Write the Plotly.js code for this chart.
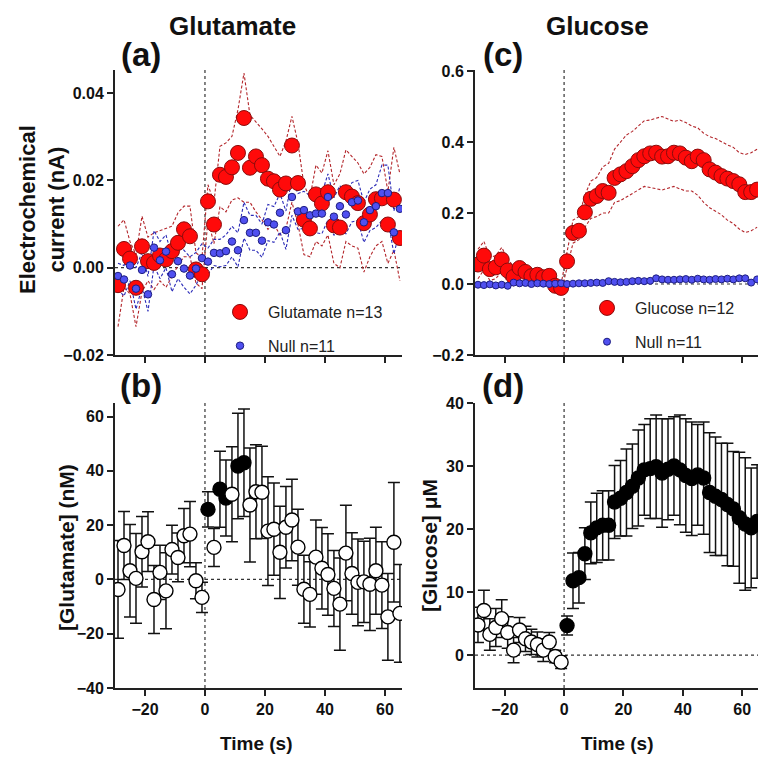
<!DOCTYPE html>
<html><head><meta charset="utf-8">
<script src="https://cdn.plot.ly/plotly-3.0.1.min.js"></script>
<style>html,body{margin:0;padding:0;background:#fff}#chart{width:758px;height:758px}</style>
</head><body><div id="chart"></div>
<script>
// ---- data ----
const time = [-29,-27,-25,-23,-21,-19,-17,-15,-13,-11,-9,-7,-5,-3,-1,
  1,3,5,7,9,11,13,15,17,19,21,23,25,27,29,31,33,35,37,39,41,43,45,47,49,51,53,55,57,59,61,63,65];
const xTicks = [-20,0,20,40,60];

// (a) electrochemical current, glutamate biosensor (nA)
const glutCurrent = [-0.0040,0.0043,0.0021,-0.0046,0.0049,0.0015,0.0011,0.0028,0.0019,0.0038,0.0057,0.0088,0.0072,-0.0004,-0.0015,
  0.0152,0.0099,0.0213,0.0208,0.0230,0.0263,0.0343,0.0229,0.0255,0.0235,0.0204,0.0198,0.0179,0.0193,0.0280,0.0194,0.0110,0.0090,0.0168,0.0147,0.0173,0.0097,0.0092,0.0173,0.0163,0.0148,0.0102,0.0122,0.0157,0.0159,0.0099,0.0156,0.0068];
const glutUpper = [0.0095,0.0110,0.0060,0.0030,0.0118,0.0070,0.0080,0.0085,0.0090,0.0095,0.0126,0.0141,0.0141,0.0034,0.0023,
  0.0190,0.0150,0.0278,0.0286,0.0301,0.0362,0.0446,0.0350,0.0335,0.0318,0.0301,0.0278,0.0255,0.0290,0.0347,0.0286,0.0190,0.0160,0.0235,0.0217,0.0268,0.0190,0.0215,0.0270,0.0255,0.0240,0.0215,0.0230,0.0259,0.0255,0.0175,0.0276,0.0215];
const glutLower = [-0.0135,-0.0045,-0.0060,-0.0135,-0.0055,-0.0030,-0.0050,-0.0030,-0.0045,-0.0020,0.0005,0.0025,0.0025,-0.0035,-0.0048,
  0.0110,0.0055,0.0140,0.0128,0.0155,0.0160,0.0150,0.0150,0.0128,0.0110,0.0088,0.0100,0.0075,0.0090,0.0150,0.0100,0.0030,0.0025,0.0060,0.0050,0.0075,0.0010,0.0000,0.0060,0.0050,0.0045,-0.0010,0.0025,0.0050,0.0060,0.0010,0.0040,-0.0030];
const nullA = [-0.0019,-0.0027,0.0005,-0.0048,-0.0005,-0.0061,0.0046,0.0017,0.0037,-0.0015,0.0015,-0.0002,-0.0018,-0.0002,0.0022,
  0.0014,0.0034,0.0033,0.0038,0.0060,0.0040,0.0109,0.0080,0.0080,0.0062,0.0104,0.0099,0.0126,0.0086,0.0162,0.0129,0.0132,0.0120,0.0124,0.0124,0.0162,0.0117,0.0141,0.0122,0.0150,0.0154,0.0104,0.0132,0.0141,0.0171,0.0171,0.0081,0.0135];
const nullAUpper = [0.0010,0.0005,0.0040,0.0000,0.0035,-0.0020,0.0085,0.0060,0.0075,0.0025,0.0055,0.0040,0.0025,0.0035,0.0055,
  0.0045,0.0065,0.0065,0.0075,0.0095,0.0080,0.0150,0.0120,0.0120,0.0100,0.0145,0.0140,0.0170,0.0130,0.0205,0.0170,0.0175,0.0165,0.0168,0.0170,0.0215,0.0160,0.0188,0.0165,0.0195,0.0200,0.0150,0.0180,0.0190,0.0235,0.0235,0.0130,0.0185];
const nullALower = [-0.0050,-0.0065,-0.0030,-0.0095,-0.0045,-0.0100,0.0005,-0.0025,0.0000,-0.0055,-0.0025,-0.0045,-0.0060,-0.0040,-0.0010,
  -0.0015,0.0005,0.0002,0.0005,0.0025,0.0002,0.0068,0.0040,0.0040,0.0024,0.0062,0.0058,0.0082,0.0042,0.0120,0.0088,0.0090,0.0075,0.0080,0.0078,0.0110,0.0074,0.0095,0.0078,0.0105,0.0108,0.0058,0.0085,0.0092,0.0108,0.0110,0.0032,0.0085];

// (b) [Glutamate] (nM)
const glutConc = [-3.7,12.5,3.2,0.4,10.2,13.9,-7.4,2.6,-4.2,11.0,8.1,16.1,16.7,-0.5,-6.6,
  25.8,11.8,33.2,30.0,31.4,41.8,43.0,27.4,32.3,32.1,17.8,18.5,10.0,19.2,21.9,11.9,-3.6,-5.5,8.2,4.1,1.8,-3.3,-9.1,9.7,2.2,-1.1,-0.9,-1.8,3.2,-2.1,-13.8,13.7,-12.5];
const glutConcErr = [18,12.5,17,16.5,13,11,12.5,10,14,9,9,10,12,6.6,5.6,
  6.5,7,14,14,17.5,19.4,19.8,21,17.3,17,20,17,17,15,15,14,12.5,12,13.7,15,15,14,17,17.6,15,16,15,17,16,16,16,22,18];
const glutSignif = [0,0,0,0,0,0,0,0,0,0,0,0,0,0,0,
  1,0,1,1,0,1,1,0,0,0,0,0,0,0,0,0,0,0,0,0,0,0,0,0,0,0,0,0,0,0,0,0,0];

// (c) electrochemical current, glucose biosensor (nA)
const glucCurrent = [0.055,0.080,0.042,0.047,0.069,0.038,0.020,0.045,0.034,0.022,0.026,0.019,0.023,-0.005,-0.011,
  0.064,0.144,0.150,0.202,0.240,0.248,0.262,0.257,0.299,0.309,0.318,0.332,0.349,0.360,0.368,0.370,0.359,0.360,0.370,0.368,0.356,0.346,0.359,0.349,0.323,0.314,0.304,0.297,0.290,0.281,0.259,0.259,0.266];
const glucUpper = [0.098,0.120,0.075,0.080,0.103,0.070,0.050,0.065,0.050,0.038,0.040,0.032,0.036,0.008,0.000,
  0.085,0.180,0.190,0.250,0.290,0.300,0.330,0.340,0.380,0.400,0.420,0.430,0.445,0.460,0.462,0.468,0.472,0.465,0.458,0.462,0.455,0.445,0.440,0.425,0.415,0.410,0.400,0.392,0.385,0.370,0.365,0.370,0.380];
const glucLower = [0.015,0.040,0.010,0.015,0.035,0.005,-0.005,0.025,0.018,0.005,0.012,0.006,0.010,-0.018,-0.022,
  0.045,0.115,0.125,0.160,0.185,0.190,0.200,0.200,0.230,0.235,0.245,0.255,0.265,0.275,0.272,0.268,0.265,0.270,0.275,0.268,0.262,0.262,0.250,0.230,0.215,0.205,0.195,0.180,0.170,0.155,0.145,0.150,0.160];
const nullC = [-0.002,-0.003,-0.001,-0.004,-0.002,-0.005,0.004,0.002,0.003,0.000,0.002,0.001,0.000,0.001,0.002,
  0.000,0.001,0.002,0.002,0.003,0.004,0.003,0.008,0.006,0.005,0.006,0.008,0.009,0.008,0.009,0.016,0.013,0.012,0.012,0.013,0.014,0.012,0.015,0.013,0.012,0.014,0.013,0.015,0.013,0.016,0.016,0.004,0.013];

// (d) [Glucose] (uM)
const glucConc = [4.8,7.1,3.3,4.4,5.8,3.6,0.8,4.0,2.6,2.1,1.7,0.8,2.1,-0.2,-1.1,
  4.7,11.8,12.3,16.1,19.4,20.2,20.6,20.6,24.3,24.9,25.8,26.8,28.1,29.4,29.6,29.9,28.9,29.5,30.0,29.4,28.5,28.0,28.6,28.1,25.8,25.2,24.7,23.9,23.2,21.8,20.8,20.2,21.2];
const glucConcErr = [2.8,3.2,2.5,3.0,3.0,2.5,2.0,2.0,2.0,2.0,2.0,1.8,1.5,1.0,1.0,
  1.5,4.4,4.0,4.1,4.9,5.5,5.5,5.5,5.8,6.0,6.9,6.7,7.6,7.2,7.9,8.2,8.6,8.0,7.8,8.7,9.0,9.0,8.0,8.9,9.5,9.4,8.9,9.7,9.1,10.4,10.5,9.5,9.0];
const glucSignif = [0,0,0,0,0,0,0,0,0,0,0,0,0,0,0,
  1,1,1,1,1,1,1,1,1,1,1,1,1,1,1,1,1,1,1,1,1,1,1,1,1,1,1,1,1,1,1,1,1];

// ---- styling ----
const FONT = 'Liberation Sans, Arial, Helvetica, sans-serif';
const W = 758, H = 758;
const fx = p => p / W, fy = p => 1 - p / H;
const RED = '#ff0a0a', RED_EDGE = '#8a0c0c', RED_DASH = '#b3262b';
const BLUE = '#5050f0', BLUE_EDGE = '#1d1d80', BLUE_DASH = '#2b2bb8';
const dash = '3px,2px';

function dashed(y, color, xa, ya) {
  return {x: time, y: y, type: 'scatter', mode: 'lines', xaxis: xa, yaxis: ya,
    line: {color: color, width: 1.1, dash: dash}, hoverinfo: 'skip', showlegend: false};
}

const traces = [
  // (a)
  dashed(glutUpper, RED_DASH, 'x', 'y'),
  dashed(glutLower, RED_DASH, 'x', 'y'),
  dashed(nullAUpper, BLUE_DASH, 'x', 'y'),
  dashed(nullALower, BLUE_DASH, 'x', 'y'),
  {x: time, y: glutCurrent, type: 'scatter', mode: 'markers', xaxis: 'x', yaxis: 'y',
   name: 'Glutamate n=13', legend: 'legend', legendgroup: 'a1',
   marker: {size: 15, color: RED, line: {color: RED_EDGE, width: 1}}},
  {x: time, y: nullA, type: 'scatter', mode: 'markers', xaxis: 'x', yaxis: 'y',
   name: 'Null n=11', legend: 'legend', legendgroup: 'a2',
   marker: {size: 7.5, color: BLUE, line: {color: BLUE_EDGE, width: 1}}},
  // (b)
  {x: time, y: glutConc, type: 'scatter', mode: 'markers', xaxis: 'x2', yaxis: 'y2', showlegend: false,
   error_y: {type: 'data', array: glutConcErr, visible: true, color: '#111', thickness: 1.5, width: 6},
   marker: {size: 14, color: glutSignif.map(s => s ? '#000' : '#fff'), line: {color: '#000', width: 1.4}}},
  // (c)
  dashed(glucUpper, RED_DASH, 'x3', 'y3'),
  dashed(glucLower, RED_DASH, 'x3', 'y3'),
  {x: time, y: glucCurrent, type: 'scatter', mode: 'markers', xaxis: 'x3', yaxis: 'y3',
   name: 'Glucose n=12', legend: 'legend2', legendgroup: 'c1',
   marker: {size: 15, color: RED, line: {color: RED_EDGE, width: 1}}},
  {x: time, y: nullC, type: 'scatter', mode: 'markers', xaxis: 'x3', yaxis: 'y3',
   name: 'Null n=11', legend: 'legend2', legendgroup: 'c2',
   marker: {size: 7, color: BLUE, line: {color: BLUE_EDGE, width: 1}}},
  // (d)
  {x: time, y: glucConc, type: 'scatter', mode: 'markers', xaxis: 'x4', yaxis: 'y4', showlegend: false,
   error_y: {type: 'data', array: glucConcErr, visible: true, color: '#111', thickness: 1.5, width: 6},
   marker: {size: 14, color: glucSignif.map(s => s ? '#000' : '#fff'), line: {color: '#000', width: 1.4}}}
];

const tickFont = {family: FONT, size: 16, weight: 'bold', color: '#111'};
function xaxis(domain, range, anchor, labels) {
  return {domain: domain, range: range, anchor: anchor, showline: true, linewidth: 2, linecolor: '#222',
    ticks: 'outside', ticklen: 6, tickwidth: 2, tickcolor: '#222', tickvals: xTicks,
    showticklabels: labels, tickfont: tickFont, showgrid: false, zeroline: false, fixedrange: true};
}
function yaxis(domain, range, anchor, vals, fmt) {
  return {domain: domain, range: range, anchor: anchor, showline: true, linewidth: 2, linecolor: '#222',
    ticks: 'outside', ticklen: 6, tickwidth: 2, tickcolor: '#222', tickvals: vals, tickformat: fmt,
    tickfont: tickFont, showgrid: false, zeroline: false, fixedrange: true};
}

const leftX = [fx(115), fx(402)];
const rightX = [fx(475), 1];
const topY = [fy(355), fy(70)];
const botY = [fy(688), fy(403)];

function refLines(xa, ya) {
  return [
    {type: 'line', xref: xa, yref: ya + ' domain', x0: 0, x1: 0, y0: 0, y1: 1,
     line: {color: '#333', width: 1.2, dash: 'dot'}, layer: 'below'},
    {type: 'line', xref: xa + ' domain', yref: ya, x0: 0, x1: 1, y0: 0, y1: 0,
     line: {color: '#333', width: 1.2, dash: 'dot'}, layer: 'below'}
  ];
}

function ann(text, x, y, size, extra) {
  return Object.assign({text: text, xref: 'paper', yref: 'paper', x: fx(x), y: fy(y),
    showarrow: false, xanchor: 'center', yanchor: 'middle',
    font: {family: FONT, size: size, weight: 'bold', color: '#111'}}, extra || {});
}

const legendFont = {family: FONT, size: 16, color: '#222'};
const layout = {
  width: W, height: H, margin: {l: 0, r: 0, t: 0, b: 0},
  paper_bgcolor: '#fff', plot_bgcolor: '#fff', showlegend: true,
  xaxis: xaxis(leftX, [-30, 65.7], 'y', false),
  yaxis: yaxis(topY, [-0.02, 0.0453], 'x', [-0.02, 0, 0.02, 0.04], '.2f'),
  xaxis2: xaxis(leftX, [-30, 65.7], 'y2', true),
  yaxis2: yaxis(botY, [-40, 65], 'x2', [-40, -20, 0, 20, 40, 60], 'd'),
  xaxis3: xaxis(rightX, [-30, 65.3], 'y3', false),
  yaxis3: yaxis(topY, [-0.2, 0.603], 'x3', [-0.2, 0, 0.2, 0.4, 0.6], '.1f'),
  xaxis4: xaxis(rightX, [-30, 65.3], 'y4', true),
  yaxis4: yaxis(botY, [-5.2, 40], 'x4', [0, 10, 20, 30, 40], 'd'),
  shapes: [].concat(refLines('x', 'y'), refLines('x2', 'y2'), refLines('x3', 'y3'), refLines('x4', 'y4')),
  legend: {x: fx(212), y: fy(295), xanchor: 'left', yanchor: 'top', bgcolor: 'rgba(0,0,0,0)',
    font: legendFont, itemsizing: 'trace', itemwidth: 46, traceorder: 'grouped', tracegroupgap: 10},
  legend2: {x: fx(579), y: fy(291), xanchor: 'left', yanchor: 'top', bgcolor: 'rgba(0,0,0,0)',
    font: legendFont, itemsizing: 'trace', itemwidth: 46, traceorder: 'grouped', tracegroupgap: 10},
  annotations: [
    ann('Glutamate', 232, 26, 26),
    ann('Glucose', 597, 26, 26),
    ann('(a)', 141, 55, 33),
    ann('(b)', 141, 385, 33),
    ann('(c)', 503, 55, 33),
    ann('(d)', 503, 385, 33),
    ann('Electrochemical<br>current (nA)', 42, 210, 22, {textangle: -90}),
    ann('[Glutamate] (nM)', 66, 548, 21, {textangle: -90}),
    ann('[Glucose] μM', 429, 546, 21, {textangle: -90}),
    ann('Time (s)', 256, 743, 19),
    ann('Time (s)', 617, 743, 19)
  ]
};

Plotly.newPlot('chart', traces, layout, {displayModeBar: false, staticPlot: true});
</script>
</body></html>
